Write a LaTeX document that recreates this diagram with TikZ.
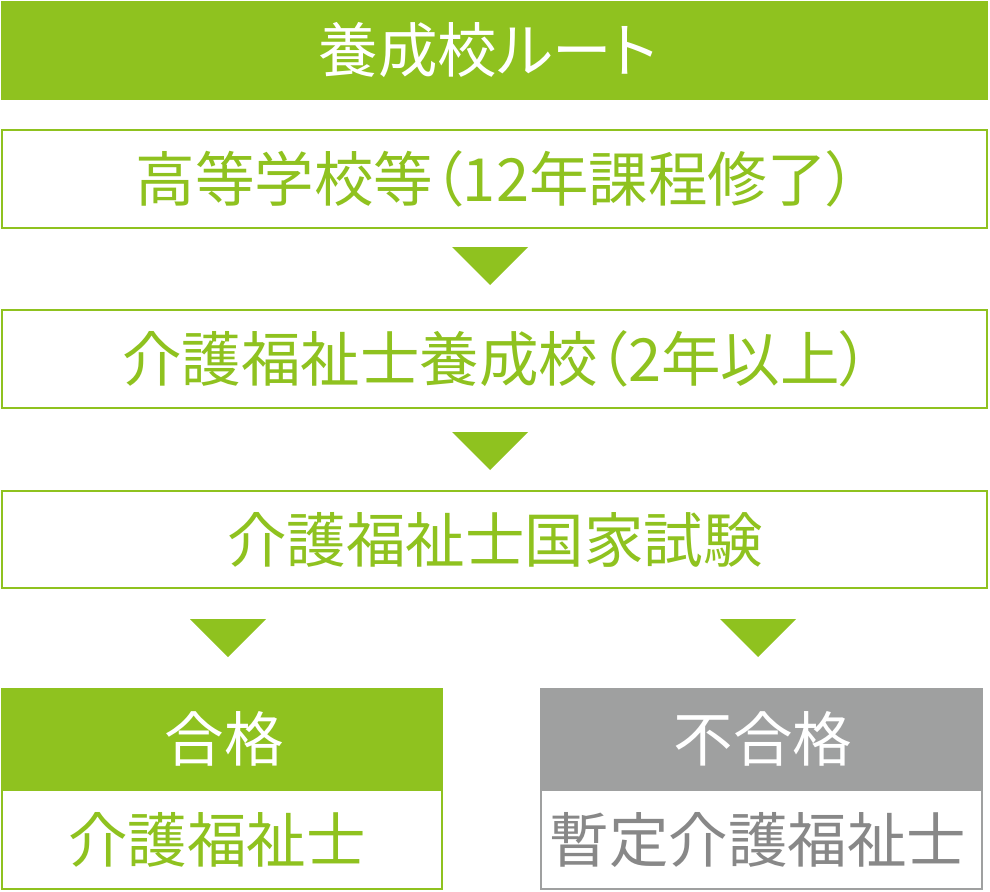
\documentclass[tikz,border=0pt]{standalone}
\usepackage{fontspec}
\newfontfamily\jpfont[RawFeature=+palt]{Noto Sans CJK JP}
\definecolor{kgreen}{HTML}{8FC21F}
\definecolor{kgray}{HTML}{9FA0A0}
\definecolor{ktext}{HTML}{888888}
\tikzset{
  lbl/.style={font=\jpfont\fontsize{59.5}{60}\selectfont, inner sep=0pt, anchor=center},
  gbox/.style={draw=kgreen, line width=2pt, fill=white},
  arrowtri/.style={fill=kgreen, draw=none},
}
\begin{document}
\begin{tikzpicture}[x=1pt,y=-1pt]
\useasboundingbox (0,0) rectangle (990,891);
% top bar
\fill[kgreen] (1,1) rectangle (988,100);
\node[lbl, text=white] (title) at (488,50.5) {養成校ルート};
% box 2
\draw[gbox] (2,130) rectangle (987,228);
\node[lbl, text=kgreen] (hs) at (496,179) {高等学校等（12年課程修了）};
\fill[arrowtri] (452,247) -- (528,247) -- (490,285) -- cycle;
% box 3
\draw[gbox] (2,310) rectangle (987,408);
\node[lbl, text=kgreen] (school) at (496,359) {介護福祉士養成校（2年以上）};
\fill[arrowtri] (452,432) -- (528,432) -- (490,470) -- cycle;
% box 4
\draw[gbox] (2,491) rectangle (987,588);
\node[lbl, text=kgreen] (exam) at (495,540) {介護福祉士国家試験};
\fill[arrowtri] (190,619) -- (266,619) -- (228,657) -- cycle;
\fill[arrowtri] (720,619) -- (796,619) -- (758,657) -- cycle;
% pass
\fill[kgreen] (1,688) rectangle (443,790);
\draw[gbox] (2,790) rectangle (442,889);
\node[lbl, text=white] (pass) at (224,739) {合格};
\node[lbl, text=kgreen] (passres) at (217,840) {介護福祉士};
% fail
\fill[kgray] (540,688) rectangle (983,790);
\draw[draw=kgray, line width=2pt, fill=white] (541,790) rectangle (982,889);
\node[lbl, text=white] (fail) at (763,739) {不合格};
\node[lbl, text=ktext] (failres) at (758,840) {暫定介護福祉士};
\end{tikzpicture}
\end{document}
